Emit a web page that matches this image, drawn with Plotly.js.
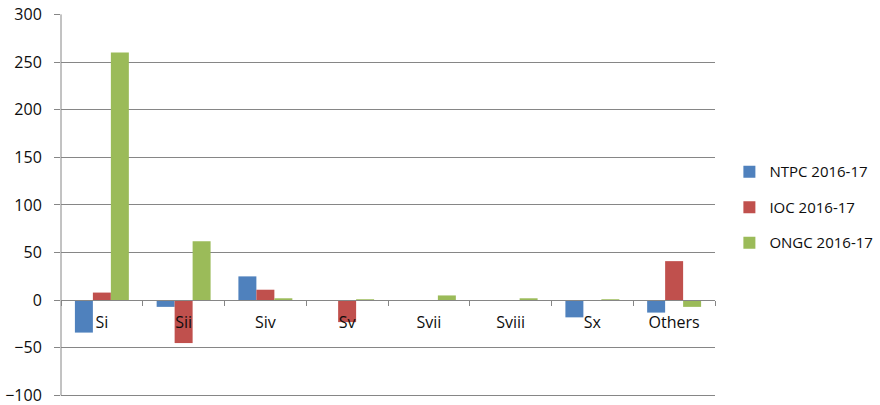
<!DOCTYPE html>
<html>
<head>
<meta charset="utf-8">
<script src="https://cdn.plot.ly/plotly-3.0.1.min.js"></script>
<style>
  html, body { margin: 0; padding: 0; background: #fff; }
  #chart { width: 880px; height: 405px; }
</style>
</head>
<body>
<div id="chart"></div>
<script>
// Sectors on the category axis
const sectors = ["Si", "Sii", "Siv", "Sv", "Svii", "Sviii", "Sx", "Others"];

// Values per company, 2016-17
const ntpc = [-34, -7, 25, 0, 0, 0, -18, -13];
const ioc  = [8, -45, 11, -23, 0, 0, 0, 41];
const ongc = [260, 62, 2, 1, 5, 2, 1, -7];

// Y-axis tick values
const yTicks = [-100, -50, 0, 50, 100, 150, 200, 250, 300];

const seriesNames = ["NTPC 2016-17", "IOC 2016-17", "ONGC 2016-17"];
const seriesColors = ["#4F81BD", "#C0504D", "#9BBB59"];

const fontFamily = "'Open Sans', 'Noto Sans', sans-serif";
const textColor = "#0d0d0d";
const axisColor = "#868686";

const yMin = yTicks[0];
const yMax = yTicks[yTicks.length - 1];
// a little room below the lowest gridline so it is not dropped at the edge
const yLow = yMin - 10;
const yHigh = yMax + 0.4;

const traces = [ntpc, ioc, ongc].map((vals, i) => ({
  type: "bar",
  x: sectors,
  y: vals,
  name: seriesNames[i],
  legendgroup: "g" + i,
  marker: { color: seriesColors[i], line: { width: 0 } },
  hoverinfo: "x+y+name"
}));

const layout = {
  width: 880,
  height: 405,
  margin: { l: 61, r: 165, t: 14, b: 0, autoexpand: false },
  paper_bgcolor: "#ffffff",
  plot_bgcolor: "#ffffff",
  font: { family: fontFamily, size: 16, color: textColor },
  barmode: "group",
  bargap: 0.34,
  bargroupgap: 0,
  showlegend: true,
  legend: {
    x: 1.022,
    y: 0.6384,
    xanchor: "left",
    yanchor: "top",
    traceorder: "grouped",
    tracegroupgap: 13,
    font: { family: fontFamily, size: 15, color: textColor },
    bgcolor: "rgba(0,0,0,0)"
  },
  xaxis: {
    type: "category",
    anchor: "free",
    position: (0 - yLow) / (yHigh - yLow),
    showline: true,
    linecolor: axisColor,
    linewidth: 1,
    ticks: "outside",
    tickson: "boundaries",
    ticklen: 5,
    tickcolor: axisColor,
    ticklabelstandoff: 8,
    showgrid: false,
    zeroline: false,
    tickfont: { family: fontFamily, size: 16, color: textColor },
    fixedrange: true
  },
  yaxis: {
    range: [yLow, yHigh],
    tickvals: yTicks,
    showline: false,
    ticks: "outside",
    ticklen: 6,
    tickcolor: axisColor,
    ticklabelstandoff: 9,
    ticklabeloverflow: "allow",
    showgrid: true,
    gridcolor: axisColor,
    gridwidth: 1,
    zeroline: false,
    tickfont: { family: fontFamily, size: 16, color: textColor },
    fixedrange: true
  },
  // vertical axis line spanning the tick range
  shapes: [{
    type: "line",
    xref: "paper", yref: "y",
    x0: 0, x1: 0, y0: yMin, y1: yMax,
    line: { color: axisColor, width: 1 },
    layer: "above"
  }]
};

Plotly.newPlot("chart", traces, layout, { displayModeBar: false, staticPlot: true });
</script>
</body>
</html>
